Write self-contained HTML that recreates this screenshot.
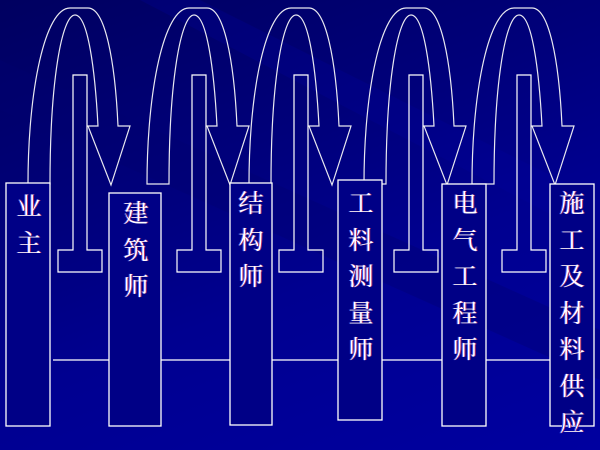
<!DOCTYPE html>
<html><head><meta charset="utf-8"><style>
html,body{margin:0;padding:0;}
body{width:600px;height:450px;overflow:hidden;background:linear-gradient(160deg,#000060 0%,#00007a 35%,#000090 60%,#0000a0 100%);position:relative;}
svg{position:absolute;left:0;top:0;}
.t{position:absolute;width:30px;color:#fff;font-family:"Liberation Serif","Noto Serif CJK SC",serif;font-size:25px;line-height:36.5px;text-align:center;text-shadow:1px 0 0 #c03060,-1px 0 0 #3060ff;}
</style></head><body>
<svg width="600" height="450" viewBox="0 0 600 450">
<defs>
<g id="arr" fill="none" stroke="#e8e8f0" stroke-width="1.2">
<path d="M28,184 C28,90 45,8 70,8 L88,8 C105,8 115,60 118,126 L130,126 L111,185 L88,126 L98,126 C95,70 88,15 75,15 C62,15 50,80 50,184 Z"/>
<path d="M73,250 L73,75 L87,75 L87,250 L102,250 L102,272 L58,272 L58,250 Z" stroke="#fff"/>
</g>
</defs>
<polygon points="0,60 600,330 600,380 0,110" fill="#000070" opacity="0.35"/>
<polygon points="200,0 600,200 600,240 140,0" fill="#0000a0" opacity="0.25"/>
<use href="#arr"/>
<use href="#arr" transform="translate(119,0)"/>
<use href="#arr" transform="translate(221,0)"/>
<use href="#arr" transform="translate(336,0)"/>
<use href="#arr" transform="translate(444,0)"/>
<g fill="#000086" stroke="#fff" stroke-width="1.3">
<rect x="6" y="183" width="44" height="243"/>
<rect x="109" y="193" width="52" height="233"/>
<rect x="230" y="183" width="42" height="242"/>
<rect x="338" y="180" width="44" height="240"/>
<rect x="442" y="184" width="44" height="242"/>
<rect x="550" y="184" width="44" height="242"/>
<path fill="none" d="M53,360 H109 M161,360 H230 M272,360 H338 M382,360 H442 M486,360 H550"/>
</g>
</svg>
<div class="t" style="left:14px;top:190px">业<br>主</div>
<div class="t" style="left:121px;top:197px">建<br>筑<br>师</div>
<div class="t" style="left:236px;top:187px">结<br>构<br>师</div>
<div class="t" style="left:346px;top:187px">工<br>料<br>测<br>量<br>师</div>
<div class="t" style="left:450px;top:187px">电<br>气<br>工<br>程<br>师</div>
<div class="t" style="left:557px;top:187px">施<br>工<br>及<br>材<br>料<br>供<br>应</div>
</body></html>
